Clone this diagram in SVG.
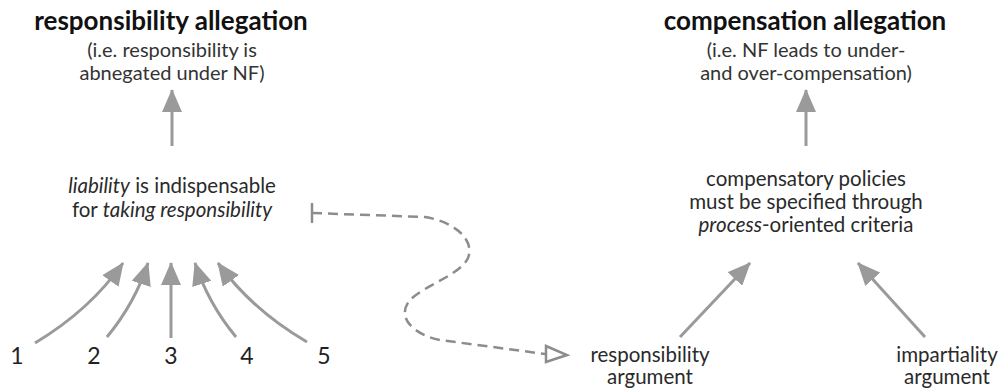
<svg xmlns="http://www.w3.org/2000/svg" width="1003" height="390" viewBox="0 0 1003 390">
  <style>
    text { font-family: Lato, "Open Sans", "DejaVu Sans", sans-serif; text-anchor: middle; }
    .title { font-size: 26px; font-weight: bold; fill: #111; }
    .sub { font-size: 20px; fill: #333; }
    .body { font-size: 20.5px; fill: #2a2a2a; }
    .num { font-size: 23px; fill: #222; }
    .arrow { fill: none; stroke: #9a9a9a; stroke-width: 3; marker-end: url(#head); }
    .dash { fill: none; stroke: #8c8c8c; stroke-width: 2.5; stroke-dasharray: 10 6; }
  </style>
  <defs>
    <marker id="head" viewBox="0 0 24 20" refX="22" refY="10" markerWidth="24" markerHeight="20" markerUnits="userSpaceOnUse" orient="auto">
      <path d="M0,0 L23,10 L0,20 Z" fill="#9a9a9a"/>
    </marker>
  </defs>

  <!-- left column -->
  <g id="responsibility-allegation">
    <text class="title" x="171" y="30">responsibility allegation</text>
    <text class="sub" x="172" y="57">(i.e. responsibility is</text>
    <text class="sub" x="172" y="80">abnegated under NF)</text>
  </g>
  <g id="liability">
    <text class="body" x="172" y="193"><tspan font-style="italic">liability</tspan> is indispensable</text>
    <text class="body" x="172" y="217">for <tspan font-style="italic">taking responsibility</tspan></text>
  </g>
  <g id="n1"><text class="num" x="17" y="364">1</text></g>
  <g id="n2"><text class="num" x="94" y="364">2</text></g>
  <g id="n3"><text class="num" x="171" y="364">3</text></g>
  <g id="n4"><text class="num" x="247" y="364">4</text></g>
  <g id="n5"><text class="num" x="324" y="364">5</text></g>

  <!-- right column -->
  <g id="compensation-allegation">
    <text class="title" x="805" y="30">compensation allegation</text>
    <text class="sub" x="806" y="57">(i.e. NF leads to under-</text>
    <text class="sub" x="806" y="80">and over-compensation)</text>
  </g>
  <g id="compensatory-policies">
    <text class="body" x="806" y="186">compensatory policies</text>
    <text class="body" x="806" y="209">must be specified through</text>
    <text class="body" x="806" y="232"><tspan font-style="italic">process</tspan>-oriented criteria</text>
  </g>
  <g id="responsibility-argument">
    <text class="body" x="650" y="362">responsibility</text>
    <text class="body" x="650" y="384">argument</text>
  </g>
  <g id="impartiality-argument">
    <text class="body" x="947" y="362">impartiality</text>
    <text class="body" x="947" y="384">argument</text>
  </g>

  <!-- connectors -->
  <g id="connectors">
    <path class="arrow" d="M172,146 L172,90"/>
    <path class="arrow" d="M806,146 L806,90"/>
    <path class="arrow" d="M35,343 Q90,310 123,263"/>
    <path class="arrow" d="M107,337 Q135,303 148,263"/>
    <path class="arrow" d="M171,338 L171,263"/>
    <path class="arrow" d="M236,337 Q208,303 195,263"/>
    <path class="arrow" d="M307,342 Q252,310 218,263"/>
    <path class="arrow" d="M680,337 L750,263"/>
    <path class="arrow" d="M925,337 L858,263"/>
    <!-- dashed link with bar tail and open triangle head -->
    <path d="M312,203 L312,223" stroke="#8c8c8c" stroke-width="2.5"/>
    <path class="dash" d="M312,213 L425,217 C455,222 475,240 468,258 C460,275 425,285 410,300 C395,318 415,335 440,340 L545,354"/>
    <path d="M546,346 L567,355 L546,362 Z" fill="#fff" stroke="#8c8c8c" stroke-width="2.5" stroke-linejoin="miter"/>
  </g>
</svg>
